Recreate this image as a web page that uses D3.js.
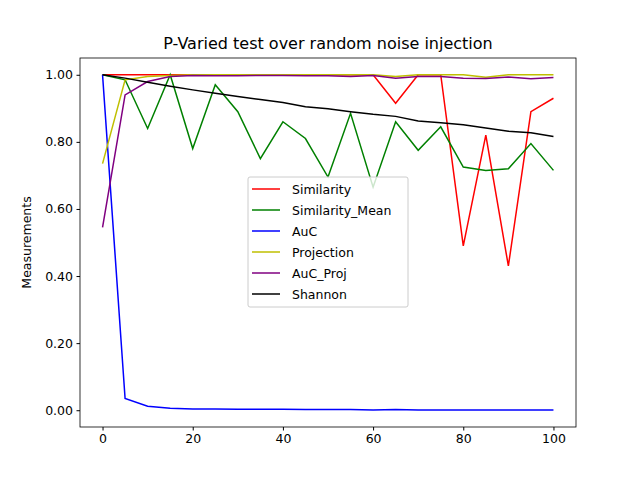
<!DOCTYPE html>
<html><head><meta charset="utf-8">
<script src="https://cdn.jsdelivr.net/npm/d3@7"></script>
<style>body{margin:0;background:#fff}text{font-family:"DejaVu Sans",sans-serif}</style>
</head><body><svg id="c" width="640" height="480"></svg>
<script>
const xs = [0,5,10,15,20,25,30,35,40,45,50,55,60,65,70,75,80,85,90,95,100]
const similarity = [1,1,1,1,1,1,1,1,1,1,1,1,1,0.915,1,1,0.49,0.82,0.43,0.89,0.93]
const similarityMean = [1,0.985,0.84,1,0.78,0.97,0.89,0.75,0.86,0.81,0.695,0.885,0.665,0.86,0.775,0.845,0.725,0.715,0.72,0.795,0.715]
const auc = [1,0.035,0.012,0.006,0.004,0.004,0.003,0.003,0.003,0.002,0.002,0.002,0.001,0.002,0.001,0.001,0.001,0.001,0.001,0.001,0.001]
const projection = [0.735,0.985,0.995,0.998,1,1,1,1,1,1,1,1,1,0.995,1,1,1,0.993,1,1,1]
const aucProj = [0.545,0.94,0.98,0.995,0.998,0.997,0.997,0.998,0.998,0.997,0.997,0.995,0.998,0.99,0.995,0.995,0.99,0.989,0.993,0.988,0.992]
const shannon = [1,0.99,0.978,0.966,0.955,0.945,0.935,0.926,0.917,0.905,0.899,0.89,0.882,0.876,0.862,0.857,0.851,0.841,0.832,0.827,0.816]

const series = [
  {name:"Similarity", color:"red", v:similarity},
  {name:"Similarity_Mean", color:"green", v:similarityMean},
  {name:"AuC", color:"blue", v:auc},
  {name:"Projection", color:"#bfbf00", v:projection},
  {name:"AuC_Proj", color:"purple", v:aucProj},
  {name:"Shannon", color:"black", v:shannon}
]

const svg = d3.select("#c")
const L=80, R=576, T=58, B=427
const x = d3.scaleLinear().domain([-5,105]).range([L,R])
const y = d3.scaleLinear().domain([-0.05,1.05]).range([B,T])

// axes
svg.append("g").attr("transform",`translate(0,${B})`)
  .call(d3.axisBottom(x).tickValues([0,20,40,60,80,100]).tickSize(3.5).tickPadding(3.5))
svg.append("g").attr("transform",`translate(${L},0)`)
  .call(d3.axisLeft(y).tickValues([0,0.2,0.4,0.6,0.8,1]).tickFormat(d3.format(".2f")).tickSize(3.5).tickPadding(3.5))
svg.selectAll(".tick text").attr("font-size",12.5).attr("fill","#000")
svg.selectAll(".domain").remove()
svg.append("rect").attr("x",L).attr("y",T).attr("width",R-L).attr("height",B-T)
  .attr("fill","none").attr("stroke","#000").attr("stroke-width",0.8)

// lines
const line = d3.line().x((d,i)=>x(xs[i])).y(d=>y(d))
series.forEach(s=>{
  svg.append("path").attr("d",line(s.v)).attr("fill","none")
    .attr("stroke",s.color).attr("stroke-width",1.5)
})

svg.append("text").attr("x",(L+R)/2).attr("y",49).attr("text-anchor","middle")
  .attr("font-size",16).text("P-Varied test over random noise injection")
svg.append("text").attr("transform",`translate(31,${(T+B)/2}) rotate(-90)`)
  .attr("text-anchor","middle").attr("font-size",12.5).text("Measurements")

// legend
const lg = svg.append("g").attr("transform","translate(248,177)")
lg.append("rect").attr("width",160).attr("height",130).attr("rx",2)
  .attr("fill","#fff").attr("fill-opacity",0.8).attr("stroke","#ccc")
series.forEach((s,i)=>{
  const yy = 12 + i*21
  lg.append("line").attr("x1",4).attr("x2",32).attr("y1",yy).attr("y2",yy)
    .attr("stroke",s.color).attr("stroke-width",1.5)
  lg.append("text").attr("x",44).attr("y",yy+4.5).attr("font-size",12.5).text(s.name)
})
</script></body></html>
